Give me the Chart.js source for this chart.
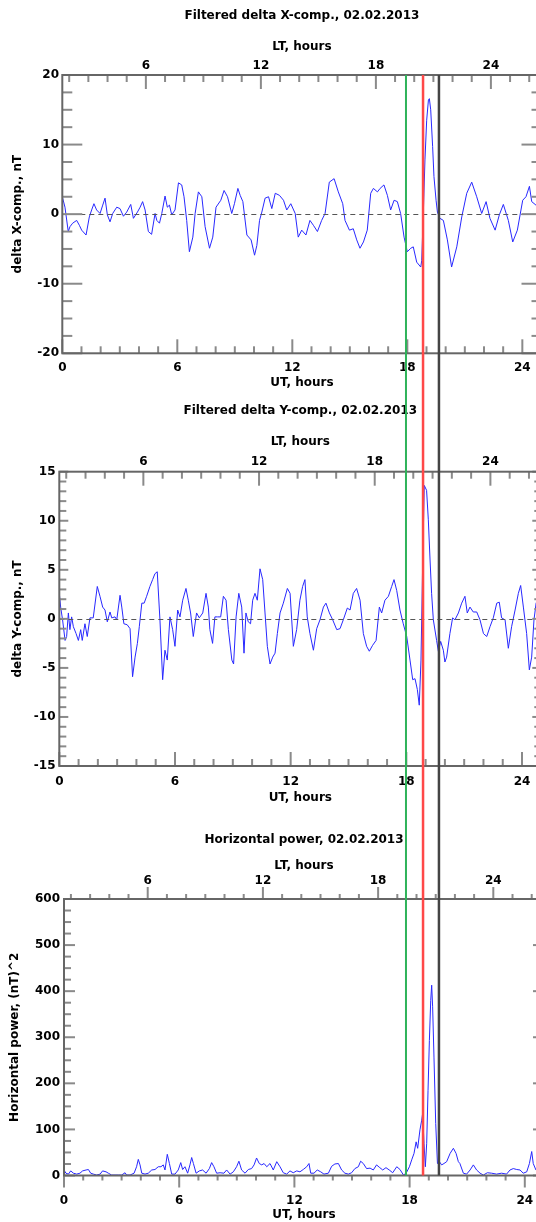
<!DOCTYPE html>
<html>
<head>
<meta charset="utf-8">
<script src="https://cdn.jsdelivr.net/npm/chart.js@4.4.1/dist/chart.umd.min.js"></script>
<style>
  html, body { margin: 0; padding: 0; background: #fff; overflow: hidden; }
  #wrap { position: relative; width: 536px; height: 1222px; overflow: hidden; }
  canvas { position: absolute; left: 0; }
</style>
</head>
<body>
<div id="wrap">
  <canvas id="c1" width="560" height="400" style="top:0px"></canvas>
  <canvas id="c2" width="560" height="410" style="top:400px"></canvas>
  <canvas id="c3" width="560" height="412" style="top:810px"></canvas>
</div>
<script>
// --- data (UT hours, values) ---
const LT_OFFSET = 1.64;           // LT = UT + 1.64 h
const utTicks = [0, 6, 12, 18, 24];
const ltTicks = [6, 12, 18, 24];
const yTicksX = [-20, -10, 0, 10, 20];
const yTicksY = [-15, -10, -5, 0, 5, 10, 15];
const yTicksP = [0, 100, 200, 300, 400, 500, 600];

// event markers (UT): green, red, black
const eventUT = [17.93, 18.82, 19.65];
const eventColor = ['#2fb35a', '#ff4848', '#444444'];
const eventWidth = [2, 2.5, 2.5];

const utX = [0, 0.14, 0.31, 0.4, 0.54, 0.75, 0.89, 1.01, 1.24, 1.41, 1.53, 1.65, 1.79, 1.97, 2.11, 2.23, 2.35, 2.49, 2.63, 2.84,
  3.01, 3.19, 3.36, 3.57, 3.71, 3.92, 4.06, 4.19, 4.32, 4.49, 4.66, 4.84, 4.93, 5.07, 5.19, 5.36, 5.48, 5.59, 5.71, 5.88,
  6.06, 6.23, 6.35, 6.49, 6.63, 6.81, 6.93, 7.1, 7.28, 7.45, 7.68, 7.85, 8.02, 8.27, 8.44, 8.62, 8.84, 8.98, 9.16, 9.28,
  9.42, 9.63, 9.85, 10.03, 10.15, 10.29, 10.41, 10.58, 10.76, 10.93, 11.11, 11.33, 11.54, 11.71, 11.92, 12.15, 12.31, 12.49, 12.71, 12.92,
  13.1, 13.31, 13.53, 13.71, 13.93, 14.18, 14.4, 14.63, 14.75, 14.98, 15.18, 15.36, 15.53, 15.71, 15.91, 16.09, 16.23, 16.44, 16.58, 16.78,
  16.96, 17.13, 17.31, 17.48, 17.65, 17.83, 18.0, 18.18, 18.31, 18.49, 18.7, 18.75, 18.84, 18.92, 19.01, 19.1, 19.15, 19.22, 19.32, 19.39,
  19.5, 19.57, 19.7, 19.88, 20.09, 20.31, 20.58, 20.84, 21.1, 21.36, 21.62, 21.88, 22.11, 22.31, 22.58, 22.8, 23.01, 23.27, 23.5, 23.74,
  24.02, 24.19, 24.37, 24.49, 24.71, 24.85, 25.0];
const deltaX = [2.5, 1.0, -2.5, -1.8, -1.3, -0.9, -1.6, -2.3, -3.0, -0.4, 0.6, 1.5, 0.6, 0.1, 1.3, 2.3, -0.1, -1.1, 0.1, 1.0,
  0.8, -0.3, 0.3, 1.4, -0.6, 0.3, 1.0, 1.8, 0.6, -2.5, -2.9, 0.1, -0.9, -1.3, 0.1, 2.6, 1.0, 1.3, -0.1, 0.6,
  4.5, 4.2, 2.5, -0.9, -5.4, -3.3, 0.1, 3.2, 2.5, -1.8, -4.9, -3.3, 1.0, 2.0, 3.4, 2.5, 0.1, 1.5, 3.7, 2.7,
  1.8, -3.0, -3.7, -5.9, -4.5, -0.9, 0.3, 2.3, 2.5, 0.8, 3.0, 2.7, 2.0, 0.6, 1.5, 0.1, -3.3, -2.3, -3.0, -0.9,
  -1.6, -2.5, -0.9, 0.1, 4.6, 5.1, 3.2, 1.5, -0.9, -2.3, -2.1, -3.7, -4.9, -4.0, -2.3, 3.0, 3.7, 3.2, 3.7, 4.2,
  2.7, 0.6, 2.0, 1.8, 0.1, -3.3, -5.4, -4.9, -4.7, -6.9, -7.6, -6.7, 0.6, 7.8, 13.5, 16.4, 16.6, 15.0, 9.7, 5.4,
  2.0, 0.3, -0.6, -0.9, -3.7, -7.6, -4.7, -0.4, 3.0, 4.6, 2.5, 0.1, 1.8, -0.6, -2.3, -0.1, 1.4, -0.9, -4.0, -2.3,
  2.0, 2.5, 4.0, 1.8, 1.3, 1.5, 1.2];

const utY = [0, 0.07, 0.17, 0.3, 0.38, 0.47, 0.55, 0.64, 0.73, 0.87, 0.99, 1.11, 1.19, 1.33, 1.45, 1.59, 1.76, 1.97, 2.11, 2.25,
  2.37, 2.49, 2.63, 2.72, 2.89, 2.98, 3.15, 3.24, 3.35, 3.52, 3.67, 3.8, 3.93, 4.05, 4.15, 4.28, 4.4, 4.53, 4.7, 4.84,
  4.96, 5.08, 5.22, 5.36, 5.48, 5.6, 5.74, 5.88, 6.0, 6.14, 6.26, 6.4, 6.57, 6.69, 6.81, 6.95, 7.12, 7.26, 7.44, 7.61,
  7.73, 7.81, 7.95, 8.07, 8.21, 8.37, 8.51, 8.65, 8.77, 8.95, 9.04, 9.17, 9.31, 9.46, 9.58, 9.68, 9.8, 9.92, 10.03, 10.15,
  10.27, 10.41, 10.55, 10.67, 10.79, 10.93, 11.07, 11.19, 11.31, 11.45, 11.62, 11.83, 11.97, 12.14, 12.31, 12.48, 12.62, 12.74, 12.86, 13.0,
  13.18, 13.35, 13.52, 13.7, 13.83, 14.01, 14.18, 14.39, 14.56, 14.73, 14.94, 15.08, 15.25, 15.42, 15.6, 15.77, 15.94, 16.08, 16.25, 16.43,
  16.6, 16.72, 16.89, 17.07, 17.24, 17.36, 17.5, 17.67, 17.84, 18.02, 18.19, 18.33, 18.45, 18.57, 18.67, 18.76, 18.85, 18.93, 19.05, 19.14,
  19.23, 19.31, 19.4, 19.57, 19.66, 19.78, 19.92, 20.0, 20.09, 20.26, 20.4, 20.52, 20.7, 20.87, 21.04, 21.16, 21.3, 21.47, 21.65, 21.82,
  22.0, 22.17, 22.34, 22.51, 22.69, 22.82, 22.94, 23.12, 23.29, 23.46, 23.64, 23.81, 23.93, 24.07, 24.24, 24.38, 24.5, 24.62, 24.73, 24.87,
  25.0];
const deltaY = [2.6, 1.2, -0.1, -2.2, -1.8, 0.6, -1.1, 0.2, -0.8, -1.5, -2.2, -1.1, -2.2, -0.5, -1.8, 0.1, 0.1, 3.3, 2.3, 1.2,
  0.9, -0.3, 0.7, 0.1, 0.2, -0.1, 2.4, 1.2, -0.5, -0.6, -1.0, -5.9, -3.9, -2.5, -0.8, 1.6, 1.6, 2.3, 3.3, 4.0,
  4.6, 4.8, -0.1, -6.2, -3.2, -4.2, 0.2, -1.1, -2.8, 0.9, 0.2, 1.9, 3.1, 1.9, 0.6, -1.8, 0.6, 0.1, 0.6, 2.6,
  1.2, -1.1, -2.5, 0.2, 0.2, 0.2, 2.3, 1.9, -1.1, -4.2, -4.6, 0.2, 2.6, 1.2, -3.5, 0.6, -0.3, -0.5, 1.9, 2.6,
  1.9, 5.1, 4.0, 0.6, -2.8, -4.6, -3.9, -3.5, -1.5, 0.6, 1.6, 3.1, 2.6, -2.8, -1.1, 1.9, 3.3, 4.0, 0.2, -1.5,
  -3.2, -1.0, -0.1, 1.2, 1.6, 0.6, -0.1, -1.1, -1.0, -0.1, 1.1, 0.9, 2.6, 3.1, 1.9, -1.5, -2.8, -3.3, -2.7, -2.2,
  1.2, 0.6, 1.9, 2.3, 3.3, 4.0, 2.9, 0.9, -0.5, -1.8, -4.2, -6.2, -6.1, -7.2, -8.8, -4.2, 6.0, 13.6, 13.1, 10.1,
  6.0, 2.6, -0.1, -2.2, -3.3, -2.3, -3.2, -4.4, -3.9, -1.5, 0.1, -0.1, 0.6, 1.6, 2.3, 0.6, 1.2, 0.7, 0.7, -0.1,
  -1.5, -1.8, -0.8, 0.1, 1.6, 1.7, 0.1, -0.1, -3.0, -0.8, 0.9, 2.6, 3.4, 1.2, -1.5, -5.2, -3.9, -0.1, 1.6, 2.2,
  1.8];

const utP = [0, 0.1, 0.23, 0.35, 0.49, 0.66, 0.83, 0.97, 1.15, 1.27, 1.39, 1.53, 1.7, 1.88, 2.01, 2.19, 2.31, 2.48, 2.66, 2.83,
  3.0, 3.18, 3.26, 3.44, 3.65, 3.78, 3.87, 3.96, 4.05, 4.22, 4.39, 4.57, 4.74, 4.91, 5.05, 5.17, 5.26, 5.38, 5.49, 5.61,
  5.78, 5.95, 6.08, 6.18, 6.3, 6.44, 6.56, 6.65, 6.74, 6.88, 7.05, 7.22, 7.4, 7.57, 7.69, 7.81, 7.95, 8.13, 8.33, 8.47,
  8.65, 8.82, 8.99, 9.11, 9.25, 9.43, 9.6, 9.77, 9.9, 10.03, 10.17, 10.3, 10.42, 10.56, 10.73, 10.9, 11.08, 11.25, 11.42, 11.6,
  11.77, 11.94, 12.12, 12.29, 12.46, 12.64, 12.76, 12.85, 13.02, 13.19, 13.37, 13.54, 13.77, 13.94, 14.11, 14.29, 14.46, 14.63, 14.81, 14.98,
  15.15, 15.33, 15.45, 15.59, 15.76, 15.94, 16.11, 16.28, 16.42, 16.6, 16.77, 16.94, 17.12, 17.33, 17.5, 17.68, 17.82, 17.99, 18.11, 18.23,
  18.34, 18.42, 18.54, 18.63, 18.68, 18.75, 18.82, 18.89, 18.96, 19.03, 19.1, 19.15, 19.2, 19.27, 19.36, 19.45, 19.55, 19.67, 19.79, 19.93,
  20.11, 20.28, 20.42, 20.54, 20.62, 20.8, 20.97, 21.15, 21.32, 21.49, 21.67, 21.84, 22.05, 22.27, 22.53, 22.79, 23.05, 23.23, 23.4, 23.58,
  23.75, 23.92, 24.1, 24.24, 24.36, 24.44, 24.58, 24.8, 25.0];
const powerH = [12, 5, 3, 10, 5, 3, 5, 10, 12, 13, 5, 3, 1, 3, 10, 8, 5, 1, 1, 1,
  1, 6, 1, 1, 5, 19, 35, 23, 5, 3, 5, 12, 13, 19, 19, 23, 12, 46, 26, 3,
  3, 12, 28, 13, 19, 5, 23, 39, 26, 5, 10, 12, 5, 15, 28, 19, 5, 6, 5, 12,
  3, 8, 19, 31, 12, 5, 13, 15, 23, 38, 26, 23, 26, 19, 26, 12, 30, 19, 6, 3,
  10, 6, 10, 8, 13, 19, 26, 5, 5, 12, 8, 3, 5, 20, 25, 26, 12, 5, 3, 6,
  15, 19, 31, 26, 15, 16, 12, 23, 18, 12, 17, 12, 6, 19, 13, 1, 5, 19, 34, 48,
  73, 59, 99, 120, 135, 70, 19, 70, 185, 293, 380, 413, 366, 257, 113, 26, 30, 23, 26, 30,
  48, 59, 48, 30, 26, 5, 3, 12, 23, 12, 5, 1, 6, 5, 3, 5, 3, 12, 15, 13,
  12, 5, 8, 26, 52, 26, 12, 8, 6];

// --- styling ---
const FONT = { family: '"DejaVu Sans", Verdana, sans-serif', size: 12, weight: 'bold' };
const TICK_COLOR = '#8a8a8a';
const FRAME_COLOR = '#666666';
const LINE_COLOR = 'rgb(40,40,255)';

let chart1 = null;

// frame, inward/outward minor ticks, zero line and the event markers
const framePlugin = {
  id: 'frame',
  afterDraw(chart, args, o) {
    const { ctx, chartArea: a, scales } = chart;
    const xs = scales.x, lt = scales.lt, ys = scales.y;
    ctx.save();

    if (o.zeroLine) {
      const y0 = Math.round(ys.getPixelForValue(0)) + 0.5;
      ctx.strokeStyle = '#555';
      ctx.lineWidth = 1.2;
      ctx.setLineDash([5, 4]);
      ctx.beginPath();
      ctx.moveTo(a.left, y0);
      ctx.lineTo(a.right, y0);
      ctx.stroke();
      ctx.setLineDash([]);
    }

    ctx.strokeStyle = TICK_COLOR;
    ctx.lineWidth = 2;
    const seg = (x1, y1, x2, y2) => { ctx.beginPath(); ctx.moveTo(x1, y1); ctx.lineTo(x2, y2); ctx.stroke(); };
    const d = o.outX ? -1 : 1;
    for (let h = Math.ceil(xs.min); h <= xs.max; h++) {
      const px = xs.getPixelForValue(h);
      const len = h % 6 === 0 ? o.xMaj : o.xMin;
      seg(px, a.bottom, px, a.bottom - d * len);
    }
    for (let h = Math.ceil(lt.min); h <= lt.max; h++) {
      const px = lt.getPixelForValue(h);
      const len = h % 6 === 0 ? o.xMaj : o.xMin;
      seg(px, a.top, px, a.top + d * len);
    }
    const n = Math.round((ys.max - ys.min) / o.yStep);
    for (let i = 0; i <= n; i++) {
      const v = ys.min + i * o.yStep;
      const py = ys.getPixelForValue(v);
      const major = Math.abs(v / o.yMajor - Math.round(v / o.yMajor)) < 1e-6;
      const len = major ? o.yMaj : o.yMin;
      seg(a.left, py, a.left + len, py);
      seg(a.right, py, a.right - len, py);
    }

    ctx.strokeStyle = FRAME_COLOR;
    ctx.lineWidth = 2;
    ctx.strokeRect(a.left, a.top, a.right - a.left, a.bottom - a.top);

    // markers share the pixel positions of the top panel
    const ref = (chart1 || chart).scales.x;
    const top = o.evTop === 'area' ? a.top : 0;
    const bottom = o.evBottom === 'area' ? a.bottom : chart.height;
    eventUT.forEach((t, i) => {
      const px = ref.getPixelForValue(t);
      ctx.strokeStyle = eventColor[i];
      ctx.lineWidth = eventWidth[i];
      seg(px, top, px, bottom);
    });
    ctx.restore();
  }
};

function makeChart(id, p) {
  return new Chart(document.getElementById(id), {
    type: 'line',
    data: {
      datasets: [{
        data: p.ut.map((t, i) => ({ x: t, y: p.val[i] })),
        borderColor: LINE_COLOR,
        borderWidth: 1,
        pointRadius: 0,
        tension: 0,
        fill: false
      }]
    },
    options: {
      responsive: false,
      animation: false,
      events: [],
      layout: { padding: { left: 0, top: 0, right: 560 - p.right, bottom: 0 } },
      plugins: {
        legend: { display: false },
        tooltip: { enabled: false },
        title: {
          display: true, text: p.title, color: '#000', font: FONT, fullSize: false,
          padding: { top: p.titleTop, bottom: 4 }
        },
        frame: p.frame
      },
      scales: {
        x: {
          type: 'linear', position: 'bottom', min: 0, max: 25,
          grid: { display: false, drawTicks: false }, border: { display: false },
          afterBuildTicks: s => { s.ticks = utTicks.map(v => ({ value: v })); },
          ticks: { autoSkip: false, maxRotation: 0, padding: p.utPad, color: '#000', font: FONT },
          title: { display: true, text: 'UT, hours', color: '#000', font: FONT, padding: { top: 0, bottom: p.utTitlePad } },
          afterFit: s => { s.height = p.bottomH; }
        },
        lt: {
          type: 'linear', position: 'top', min: LT_OFFSET, max: 25 + LT_OFFSET,
          grid: { display: false, drawTicks: false }, border: { display: false },
          afterBuildTicks: s => { s.ticks = ltTicks.map(v => ({ value: v })); },
          ticks: { autoSkip: false, maxRotation: 0, padding: p.ltPad, color: '#000', font: FONT },
          title: { display: true, text: 'LT, hours', color: '#000', font: FONT, padding: { top: p.ltTitlePad, bottom: 0 } },
          afterFit: s => { s.height = p.topH; }
        },
        y: {
          type: 'linear', position: 'left', min: p.yTicks[0], max: p.yTicks[p.yTicks.length - 1],
          grid: { display: false, drawTicks: false }, border: { display: false },
          afterBuildTicks: s => { s.ticks = p.yTicks.map(v => ({ value: v })); },
          ticks: { autoSkip: false, padding: p.yPad, color: '#000', font: FONT },
          title: { display: true, text: p.yTitle, color: '#000', font: FONT, padding: { top: p.yTitlePad, bottom: 0 } },
          afterFit: s => { s.width = p.left; }
        }
      }
    },
    plugins: [framePlugin]
  });
}

chart1 = makeChart('c1', {
  ut: utX, val: deltaX, yTicks: yTicksX,
  title: 'Filtered delta X-comp., 02.02.2013', yTitle: 'delta X-comp., nT',
  left: 62.3, right: 541.5, titleTop: 8.3, topH: 48.3, ltTitlePad: 13.1, ltPad: 1.8,
  bottomH: 46.7, utPad: 7.5, utTitlePad: 9.8, yPad: 3.3, yTitlePad: 10.8,
  frame: { zeroLine: true, outX: false, xMin: 7, xMaj: 14, yStep: 2.5, yMajor: 10, yMin: 10, yMaj: 20, evTop: 'area', evBottom: 'canvas' }
});

makeChart('c2', {
  ut: utY, val: deltaY, yTicks: yTicksY,
  title: 'Filtered delta Y-comp., 02.02.2013', yTitle: 'delta Y-comp., nT',
  left: 59.3, right: 541.3, titleTop: 3.3, topH: 50, ltTitlePad: 13.1, ltPad: 3.0,
  bottomH: 44, utPad: 8.3, utTitlePad: 4.8, yPad: 3.8, yTitlePad: 10.8,
  frame: { zeroLine: true, outX: false, xMin: 7, xMaj: 14, yStep: 1, yMajor: 5, yMin: 7, yMaj: 9, evTop: 'canvas', evBottom: 'canvas' }
});

makeChart('c3', {
  ut: utP, val: powerH, yTicks: yTicksP,
  title: 'Horizontal power, 02.02.2013', yTitle: 'Horizontal power, (nT)^2',
  left: 64, right: 544, titleTop: 22.3, topH: 48.3, ltTitlePad: 7.6, ltPad: 11.3,
  bottomH: 46.5, utPad: 18.3, utTitlePad: 0, yPad: 4, yTitlePad: 7.8,
  frame: { zeroLine: false, outX: true, xMin: 5, xMaj: 12, yStep: 25, yMajor: 100, yMin: 7, yMaj: 11, evTop: 'canvas', evBottom: 'area' }
});
</script>
</body>
</html>
